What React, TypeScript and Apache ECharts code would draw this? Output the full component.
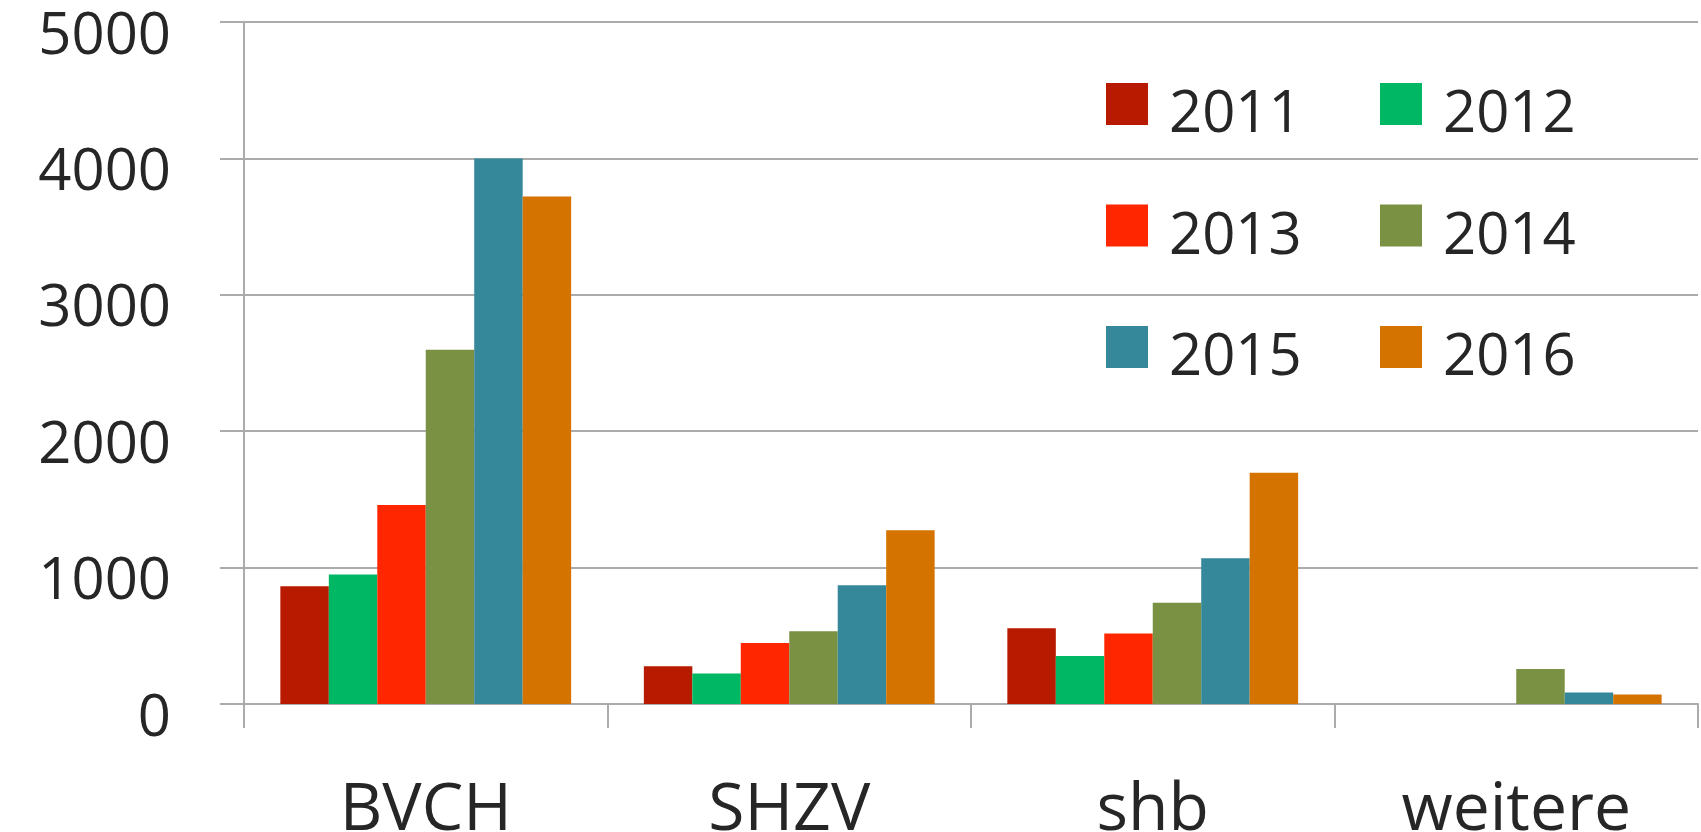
import React, { useEffect, useRef } from "react";
import * as echarts from "echarts";

const categories = ["BVCH", "SHZV", "shb", "weitere"];
const years = ["2011", "2012", "2013", "2014", "2015", "2016"];
const colors = ["#B81A00", "#00B863", "#FF2600", "#7A9143", "#35879A", "#D57300"];
const v2011 = [863, 276, 555, 0];
const v2012 = [949, 223, 352, 0];
const v2013 = [1459, 447, 516, 0];
const v2014 = [2598, 533, 743, 257];
const v2015 = [4000, 870, 1068, 84];
const v2016 = [3720, 1273, 1696, 69];
const seriesValues = [v2011, v2012, v2013, v2014, v2015, v2016];
const yTicks = { min: 0, max: 5000, interval: 1000 };

const FONT = "'Open Sans', sans-serif";
const TEXT = "#262626";
const GRID = "#ababab";
// square legend marker sitting in the upper part of a taller item box
const LEGEND_ICON = "path://M0 0 H42 V42 H0 Z M0 53";

export default function App() {
  const ref = useRef<HTMLDivElement>(null);
  useEffect(() => {
    if (!ref.current) return;
    const chart = echarts.init(ref.current, null, { renderer: "svg" });
    const legends = years.map((y, i) => {
      const r = Math.floor(i / 2);
      const c = i % 2;
      return {
        data: [y],
        left: 1106 + c * 274,
        top: 80.5 + r * 121.5,
        padding: 0,
        itemWidth: 42,
        itemHeight: 53,
        icon: LEGEND_ICON,
        selectedMode: false,
        textStyle: {
          fontFamily: FONT,
          fontSize: 58,
          color: TEXT,
          padding: [0, 0, 0, 16],
        },
      };
    });
    chart.setOption({
      animation: false,
      backgroundColor: "#ffffff",
      grid: {
        left: 244,
        right: 3,
        top: 22,
        bottom: 128,
        containLabel: false,
        outerBoundsMode: "none",
      },
      legend: legends,
      xAxis: {
        type: "category",
        data: categories,
        boundaryGap: true,
        axisLine: { show: true, lineStyle: { color: GRID, width: 2 } },
        axisTick: { show: true, length: 24, interval: 0, lineStyle: { color: GRID, width: 2 } },
        axisLabel: {
          fontFamily: FONT,
          fontSize: 66,
          lineHeight: 50,
          color: TEXT,
          margin: 100,
          verticalAlign: "middle",
          interval: 0,
        },
      },
      yAxis: {
        type: "value",
        min: yTicks.min,
        max: yTicks.max,
        interval: yTicks.interval,
        axisLine: { show: true, lineStyle: { color: GRID, width: 2 } },
        axisTick: { show: true, length: 24, lineStyle: { color: GRID, width: 2 } },
        splitLine: { show: true, lineStyle: { color: GRID, width: 2 } },
        axisLabel: {
          fontFamily: FONT,
          fontSize: 58,
          color: TEXT,
          margin: 73,
          verticalAlign: "top",
          lineHeight: 18,
          formatter: (v: number) => String(v),
        },
      },
      series: years.map((y, i) => ({
        name: y,
        type: "bar",
        data: seriesValues[i],
        barGap: "0%",
        barCategoryGap: "20%",
        itemStyle: { color: colors[i] },
      })),
    });
    return () => chart.dispose();
  }, []);
  return (
    <div
      ref={ref}
      style={{ position: "fixed", left: 0, top: 0, width: 1701, height: 832, background: "#fff" }}
    />
  );
}
